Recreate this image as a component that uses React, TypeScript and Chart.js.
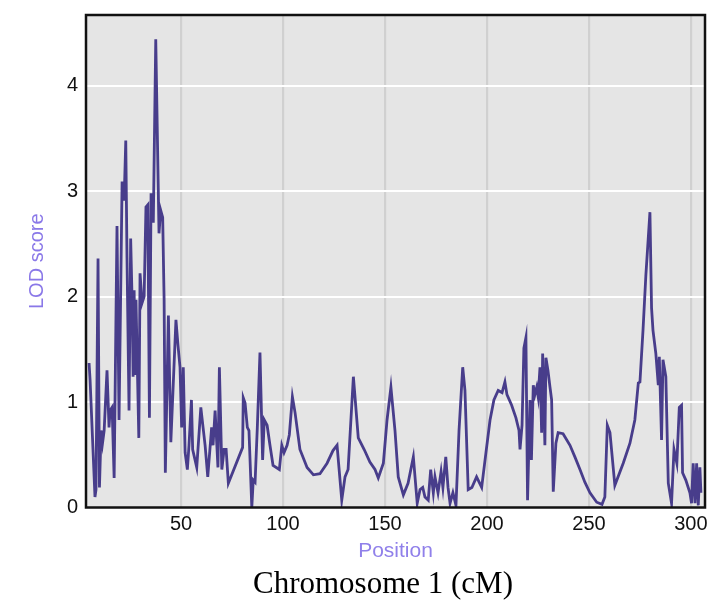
import React, { useEffect, useRef } from "react";
import { Chart, registerables } from "chart.js";

Chart.register(...registerables);

const positions = [
  4.9, 5.4, 7.8, 8.3, 9.3, 10.0, 10.8, 11.5, 12.3, 13.7,
  14.7, 15.2, 16.2, 17.2, 18.6, 19.6, 21.1, 22.1, 22.9, 23.5,
  24.5, 25.3, 26.0, 26.5, 27.0, 27.5, 27.9, 29.3, 29.9, 30.9,
  31.9, 32.8, 33.7, 34.5, 35.3, 36.4, 37.6, 39.2, 40.0, 41.0,
  41.7, 42.3, 43.8, 45.0, 47.5, 48.5, 49.5, 50.3, 51.1, 52.0,
  53.1, 53.9, 55.1, 55.7, 57.7, 59.7, 60.8, 61.8, 63.1, 65.0,
  65.7, 66.7, 68.1, 68.8, 70.0, 71.1, 72.1, 73.2, 80.2, 80.5,
  81.4, 82.5, 83.3, 84.7, 85.4, 86.3, 87.4, 88.7, 90.0, 90.8,
  92.2, 93.6, 95.1, 98.2, 99.4, 100.5, 102.0, 103.1, 104.6, 105.9,
  108.3, 111.8, 114.9, 118.1, 121.6, 124.5, 126.5, 127.2, 128.8, 130.4,
  131.9, 134.5, 136.9, 139.8, 142.6, 145.1, 146.7, 149.2, 151.0, 152.9,
  154.9, 156.5, 159.0, 161.3, 163.9, 165.8, 167.2, 168.5, 169.6, 171.2,
  172.4, 173.7, 174.5, 176.0, 177.5, 178.4, 179.8, 180.9, 181.9, 183.3,
  184.8, 186.3, 188.1, 189.2, 190.8, 192.6, 194.9, 197.4, 199.5, 201.5,
  203.4, 205.5, 207.4, 208.8, 209.8, 212.1, 214.2, 215.7, 216.2, 217.2,
  218.1, 219.1, 219.9, 221.1, 221.8, 222.7, 223.5, 224.4, 225.1, 226.0,
  226.8, 227.3, 228.4, 228.9, 229.9, 230.9, 231.7, 232.5, 233.8, 234.9,
  237.3, 240.7, 243.1, 245.6, 248.0, 250.5, 253.8, 256.4, 257.8, 259.0,
  260.3, 262.7, 266.8, 270.1, 272.5, 274.2, 275.0, 276.5, 277.9, 279.9,
  280.7, 281.4, 282.8, 284.0, 284.5, 285.6, 286.3, 287.7, 288.9, 290.5,
  291.7, 293.1, 294.3, 295.4, 295.9, 297.5, 299.5, 300.3, 301.1, 302.0,
  302.8, 303.6, 304.4, 304.9,
];

const lodScores = [
  1.37, 1.21, 0.10, 0.17, 2.36, 0.19, 0.73, 0.61, 0.73, 1.30,
  0.76, 0.92, 0.95, 0.28, 2.67, 0.83, 3.09, 2.91, 3.48, 2.37,
  0.92, 2.55, 1.97, 1.24, 2.06, 1.27, 1.97, 0.66, 2.22, 1.94,
  2.00, 2.85, 2.87, 0.85, 2.98, 2.70, 4.44, 2.60, 2.82, 2.75,
  1.97, 0.33, 1.82, 0.62, 1.78, 1.54, 1.33, 0.76, 1.33, 0.52,
  0.36, 0.59, 1.02, 0.55, 0.38, 0.95, 0.76, 0.59, 0.29, 0.76,
  0.59, 0.92, 0.38, 1.33, 0.36, 0.55, 0.55, 0.23, 0.57, 1.04,
  0.99, 0.76, 0.73, 0.00, 0.26, 0.24, 0.76, 1.47, 0.45, 0.83,
  0.78, 0.59, 0.40, 0.36, 0.59, 0.52, 0.59, 0.69, 1.05, 0.90,
  0.55, 0.38, 0.31, 0.32, 0.42, 0.54, 0.59, 0.43, 0.07, 0.29,
  0.36, 1.24, 0.66, 0.55, 0.43, 0.36, 0.28, 0.42, 0.83, 1.14,
  0.73, 0.29, 0.12, 0.23, 0.48, 0.04, 0.17, 0.19, 0.10, 0.07,
  0.36, 0.14, 0.29, 0.14, 0.34, 0.19, 0.48, 0.19, 0.04, 0.14,
  0.02, 0.73, 1.33, 1.11, 0.17, 0.19, 0.29, 0.19, 0.52, 0.83,
  1.02, 1.11, 1.09, 1.19, 1.07, 0.97, 0.85, 0.73, 0.55, 0.78,
  1.51, 1.61, 0.07, 1.02, 0.45, 1.16, 1.07, 1.14, 1.05, 1.33,
  0.71, 1.46, 0.59, 1.42, 1.30, 1.14, 1.02, 0.15, 0.61, 0.71,
  0.70, 0.59, 0.48, 0.36, 0.24, 0.14, 0.05, 0.03, 0.10, 0.78,
  0.71, 0.21, 0.42, 0.61, 0.83, 1.18, 1.19, 1.68, 2.20, 2.80,
  1.89, 1.68, 1.46, 1.16, 1.43, 0.64, 1.40, 1.24, 0.23, 0.04,
  0.55, 0.42, 0.95, 0.97, 0.33, 0.26, 0.14, 0.04, 0.42, 0.04,
  0.42, 0.02, 0.38, 0.14,
];

const xTickValues = [50, 100, 150, 200, 250, 300];
const yTickValues = [0, 1, 2, 3, 4];
const xRange = [3.4, 306.9];
const yRange = [0, 4.67];
const xTitle = "Position";
const yTitle = "LOD score";
const caption = "Chromosome 1 (cM)";

export default function App() {
  const ref = useRef<HTMLCanvasElement>(null);

  useEffect(() => {
    const canvas = ref.current;
    if (!canvas) return;
    const framePlugin = {
      id: "plotFrame",
      beforeDraw(chart: any) {
        const { ctx, chartArea: a } = chart;
        ctx.save();
        ctx.fillStyle = "#e5e5e5";
        ctx.fillRect(a.left, a.top, a.right - a.left, a.bottom - a.top);
        ctx.restore();
      },
      afterDraw(chart: any) {
        const { ctx, chartArea: a } = chart;
        ctx.save();
        ctx.strokeStyle = "#111111";
        ctx.lineWidth = 2.5;
        ctx.strokeRect(a.left, a.top, a.right - a.left, a.bottom - a.top);
        ctx.restore();
      },
    };

    const zeroPad = (s: any) => {
      s.paddingTop = 0;
      s.paddingBottom = 0;
      s.paddingLeft = 0;
      s.paddingRight = 0;
    };

    const font = 'Arial, "Liberation Sans", sans-serif';
    const chart = new Chart(canvas, {
      type: "line",
      data: {
        datasets: [
          {
            data: positions.map((x, i) => ({ x, y: lodScores[i] })),
            borderColor: "#483d8b",
            borderWidth: 2.8,
            pointRadius: 0,
            tension: 0,
            fill: false,
          },
        ],
      },
      options: {
        animation: false,
        responsive: false,
        devicePixelRatio: 1,
        layout: { padding: { top: 15, right: 5, left: 0, bottom: 0 } },
        plugins: { legend: { display: false }, tooltip: { enabled: false } },
        scales: {
          x: {
            type: "linear",
            min: xRange[0],
            max: xRange[1],
            afterBuildTicks: (s: any) => {
              s.ticks = xTickValues.map((v) => ({ value: v }));
            },
            afterFit: (s: any) => {
              s.height = 62.5;
              zeroPad(s);
            },
            grid: { color: "#d0d0d0", lineWidth: 2.2, drawTicks: false },
            border: { display: false },
            ticks: {
              autoSkip: false,
              maxRotation: 0,
              padding: 5,
              color: "#111111",
              font: { family: font, size: 20 },
            },
            title: {
              display: true,
              text: xTitle,
              color: "#9080ea",
              font: { family: font, size: 21 },
              padding: { top: 0, bottom: 6 },
            },
          },
          y: {
            type: "linear",
            min: yRange[0],
            max: yRange[1],
            afterBuildTicks: (s: any) => {
              s.ticks = yTickValues.map((v) => ({ value: v }));
            },
            afterFit: (s: any) => {
              s.width = 86;
              zeroPad(s);
            },
            grid: { color: "#ffffff", lineWidth: 2, drawTicks: false },
            border: { display: false },
            ticks: {
              autoSkip: false,
              padding: 8,
              color: "#111111",
              font: { family: font, size: 20 },
            },
            title: {
              display: true,
              text: yTitle,
              color: "#8a78e8",
              font: { family: font, size: 20 },
              padding: { top: 25, bottom: 0 },
            },
          },
        },
      },
      plugins: [framePlugin],
    });
    return () => chart.destroy();
  }, []);

  return (
    <div style={{ position: "absolute", left: 0, top: 0, width: 710, height: 600 }}>
      <canvas ref={ref} width={710} height={570} style={{ display: "block" }} />
      <div
        style={{
          position: "absolute",
          left: 0,
          top: 565,
          width: 710,
          paddingLeft: 56,
          boxSizing: "border-box",
          textAlign: "center",
          fontFamily: '"Times New Roman", "Liberation Serif", serif',
          fontSize: 31,
          lineHeight: "36px",
          color: "#000",
        }}
      >
        {caption}
      </div>
    </div>
  );
}
